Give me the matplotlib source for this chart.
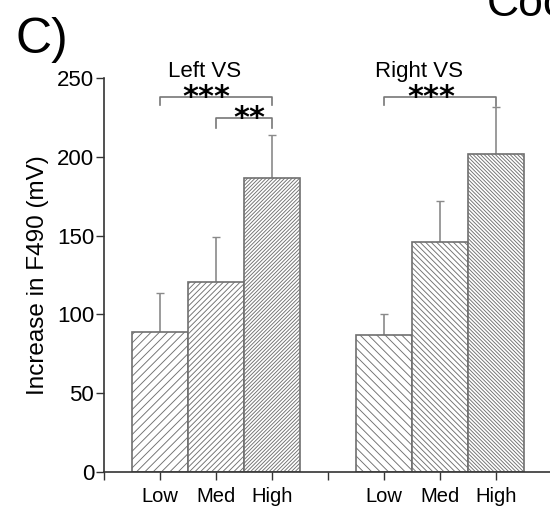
import matplotlib
matplotlib.use("Agg")
import matplotlib.pyplot as plt

plt.rcParams['font.family'] = ['Liberation Sans', 'DejaVu Sans']
plt.rcParams['hatch.linewidth'] = 0.65
plt.rcParams['hatch.color'] = '#ababab'

# data
groups = ["Left VS", "Right VS"]
levels = ["Low", "Med", "High"]
left_means = [88.6, 120.6, 186.5]
left_errs = [24.8, 28.5, 27.3]
right_means = [87.0, 145.7, 202.0]
right_errs = [13.3, 26.3, 29.8]
tick_labels = ["", "Low", "Med", "High", "", "Low", "Med", "High"]
hatches_left = ["////", "//////", "/////////"]
hatches_right = ["\\" * 4, "\\" * 6, "\\" * 9]

W, H = 550, 511
fig = plt.figure(figsize=(W / 100, H / 100), dpi=100)
ax_left = 104 / W
ax_bottom = (H - 472) / H
ax_height = (472 - 78) / H
ax = fig.add_axes([ax_left, ax_bottom, 1.0 - ax_left + 0.004, ax_height])

xl = [1, 2, 3]
xr = [5, 6, 7]
edge = '#707070'
for x, m, h in zip(xl, left_means, hatches_left):
    ax.bar(x, m, width=1.0, facecolor='white', edgecolor=edge, hatch=h, linewidth=1.2, zorder=2)
for x, m, h in zip(xr, right_means, hatches_right):
    ax.bar(x, m, width=1.0, facecolor='white', edgecolor=edge, hatch=h, linewidth=1.2, zorder=2)

ecol = '#8a8a8a'
ax.errorbar(xl, left_means, yerr=[[0] * 3, left_errs], fmt='none', ecolor=ecol,
            elinewidth=1.2, capsize=3, capthick=1.0, zorder=1)
ax.errorbar(xr, right_means, yerr=[[0] * 3, right_errs], fmt='none', ecolor=ecol,
            elinewidth=1.2, capsize=3, capthick=1.0, zorder=1)

ax.set_xlim(0, 8)
ax.set_ylim(0, 250)
ax.set_yticks([0, 50, 100, 150, 200, 250])
ax.set_xticks(range(0, 8))
ax.set_xticklabels(tick_labels, fontsize=14.5)
ax.tick_params(axis='y', labelsize=16, length=6, width=1.0, color='#333333', pad=1)
ax.tick_params(axis='x', length=6, width=1.0, color='#333333', pad=5)
for s in ['top', 'right']:
    ax.spines[s].set_visible(False)
for s in ['left', 'bottom']:
    ax.spines[s].set_color('#333333')
    ax.spines[s].set_linewidth(1.2)
ax.spines['bottom'].set_bounds(0, 8)

ax.set_ylabel("Increase in F490 (mV)", fontsize=17.5, labelpad=6)

# significance brackets
bcol = '#777777'
ax.plot([1, 1, 3, 3], [233, 238, 238, 233], color=bcol, lw=1.2, clip_on=False)
ax.plot([2, 2, 3, 3], [218, 224.5, 224.5, 218], color=bcol, lw=1.2, clip_on=False)
ax.plot([5, 5, 7, 7], [233, 238, 238, 232], color=bcol, lw=1.2, clip_on=False)
star_font = dict(family='DejaVu Sans', fontsize=22, fontweight='bold', ha='center', va='baseline')
ax.text(1.82, 232.5, "***", **star_font)
ax.text(2.6, 219.0, "**", **star_font)
ax.text(5.85, 232.5, "***", **star_font)

ax.text(1.8, 250.6, groups[0], fontsize=16, ha='center', va='baseline')
ax.text(5.63, 250.6, groups[1], fontsize=16, ha='center', va='baseline')

fig.text(15 / W, 1 - 53 / H, "C)", fontsize=36, ha='left', va='baseline')
fig.text(487 / W, 1 - 16 / H, "Coo", fontsize=32, ha='left', va='baseline')

fig.savefig("out.png", dpi=100)
